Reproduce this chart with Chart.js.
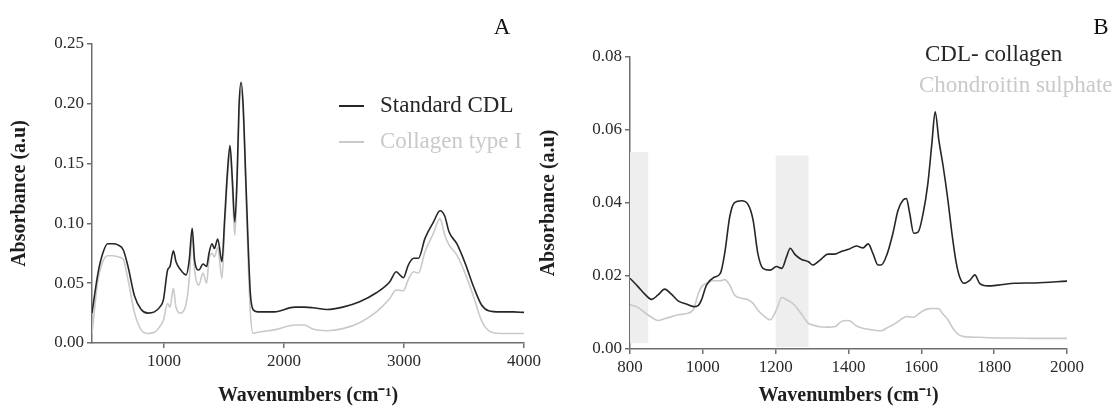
<!DOCTYPE html>
<html lang="en">
<head>
  <meta charset="UTF-8">
  <title>FTIR spectra - CDL</title>
  <script src="https://cdn.jsdelivr.net/npm/chart.js"></script>
  <style>
    body { margin: 0; background: #fff; }
    #wrap { position: relative; width: 1115px; height: 409px; }
    .box { position: absolute; top: 0; }
    #boxA { left: 0; }
    #boxB { left: 536px; }
  </style>
</head>
<body>
  <div id="wrap">
    <div class="box" id="boxA"><canvas id="chartA" width="560" height="409"></canvas></div>
    <div class="box" id="boxB"><canvas id="chartB" width="579" height="409"></canvas></div>
  </div>

  <script>
    // --- panel A : Standard CDL vs collagen type I (400-4000 cm-1)
    const wnA = [400, 450, 490, 530, 575, 615, 660, 700, 755, 810, 865, 920, 965, 995, 1030, 1050, 1078, 1100,
      1140, 1185, 1210, 1235, 1255, 1290, 1325, 1355, 1375, 1400, 1420, 1448, 1483, 1505, 1528, 1550, 1570, 1590,
      1610, 1625, 1643, 1660, 1680, 1700, 1720, 1742, 1780, 1920, 2090, 2170, 2240, 2360, 2490, 2630, 2770, 2880,
      2935, 2965, 2995, 3035, 3080, 3120, 3175, 3245, 3300, 3340, 3375, 3440, 3510, 3580, 3645, 3705, 3800, 3910, 4000];
    const cdlA = [0.025, 0.0585, 0.075, 0.083, 0.083, 0.082, 0.078, 0.064, 0.039, 0.028, 0.025, 0.026, 0.030, 0.036,
      0.061, 0.064, 0.077, 0.068, 0.061, 0.057, 0.069, 0.096, 0.069, 0.061, 0.066, 0.064, 0.075, 0.083, 0.079, 0.087,
      0.068, 0.103, 0.142, 0.165, 0.136, 0.101, 0.142, 0.198, 0.218, 0.198, 0.142, 0.086, 0.041, 0.028, 0.026, 0.026,
      0.030, 0.030, 0.0295, 0.028, 0.030, 0.0345, 0.042, 0.051, 0.0596, 0.057, 0.0546, 0.065, 0.0708, 0.0708, 0.0875,
      0.101, 0.1106, 0.106, 0.093, 0.083, 0.0666, 0.047, 0.032, 0.027, 0.026, 0.026, 0.0256];
    const collagenA = [0.008, 0.053, 0.068, 0.073, 0.073, 0.072, 0.070, 0.053, 0.025, 0.011, 0.008, 0.009, 0.0137,
      0.019, 0.033, 0.030, 0.0457, 0.030, 0.025, 0.033, 0.053, 0.089, 0.061, 0.0485, 0.0585, 0.050, 0.070, 0.075,
      0.072, 0.080, 0.054, 0.096, 0.136, 0.160, 0.128, 0.090, 0.135, 0.189, 0.2115, 0.192, 0.135, 0.072, 0.025, 0.008,
      0.009, 0.011, 0.015, 0.015, 0.0117, 0.0103, 0.012, 0.017, 0.026, 0.037, 0.0443, 0.044, 0.0437, 0.0527, 0.0596,
      0.0585, 0.0763, 0.0917, 0.104, 0.090, 0.082, 0.0736, 0.058, 0.0387, 0.019, 0.0103, 0.008, 0.008, 0.008];
    const xTicksA = [1000, 2000, 3000, 4000];
    const yTicksA = [0, 0.05, 0.10, 0.15, 0.20, 0.25];

    // --- panel B : CDL-collagen vs chondroitin sulphate (800-2000 cm-1)
    const wnB = [800, 822, 840, 859, 877, 895, 913, 932, 955, 975, 987, 996, 1010, 1030, 1048, 1060, 1074, 1087, 1106,
      1124, 1138, 1151, 1165, 1185, 1202, 1217, 1230, 1240, 1252, 1270, 1290, 1302, 1321, 1344, 1362, 1380, 1400, 1422,
      1440, 1454, 1467, 1481, 1490, 1506, 1522, 1536, 1550, 1559, 1568, 1579, 1591, 1605, 1618, 1629, 1638, 1648, 1660,
      1673, 1684, 1696, 1705, 1717, 1733, 1747, 1760, 1783, 1811, 1857, 1912, 2000];
    const cdlCollagenB = [0.0194, 0.0171, 0.0151, 0.0136, 0.0148, 0.0164, 0.0151, 0.0132, 0.0123, 0.0116, 0.0119,
      0.0134, 0.0175, 0.0196, 0.0207, 0.0262, 0.0363, 0.0401, 0.0406, 0.0396, 0.0353, 0.0262, 0.0221, 0.0216, 0.0226,
      0.0221, 0.0253, 0.0276, 0.026, 0.0246, 0.0239, 0.023, 0.0243, 0.026, 0.026, 0.0267, 0.0273, 0.0282, 0.0277,
      0.0288, 0.0262, 0.023, 0.023, 0.026, 0.0317, 0.038, 0.0408, 0.0412, 0.0372, 0.0317, 0.032, 0.0372, 0.0454,
      0.0564, 0.065, 0.0573, 0.050, 0.0408, 0.0317, 0.0235, 0.0198, 0.018, 0.0188, 0.0203, 0.018, 0.0173, 0.0175,
      0.018, 0.0181, 0.0186];
    const chondroitinB = [0.0121, 0.0114, 0.0100, 0.0087, 0.0078, 0.0083, 0.0088, 0.0094, 0.0097, 0.0110, 0.0150,
      0.0170, 0.0180, 0.0187, 0.0187, 0.0190, 0.0175, 0.0148, 0.0139, 0.0135, 0.0125, 0.0107, 0.0093, 0.0080, 0.0107,
      0.0141, 0.0135, 0.0130, 0.0120, 0.0097, 0.0070, 0.0066, 0.0061, 0.0060, 0.0061, 0.0075, 0.0078, 0.0063, 0.0057,
      0.0054, 0.0052, 0.0050, 0.0050, 0.0058, 0.0066, 0.0075, 0.0085, 0.0089, 0.0088, 0.0087, 0.0095, 0.0105, 0.0110,
      0.0111, 0.0111, 0.0110, 0.0095, 0.0080, 0.0061, 0.0045, 0.0038, 0.0034, 0.0033, 0.0032, 0.0032, 0.0031, 0.0030,
      0.0030, 0.0029, 0.0029];
    const xTicksB = [800, 1000, 1200, 1400, 1600, 1800, 2000];
    const yTicksB = [0, 0.02, 0.04, 0.06, 0.08];

    // shaded regions in B
    const bandFrom = [800, 1200];
    const bandTo = [850, 1290];
    const bandLow = [0.0016, 0.0005];
    const bandHigh = [0.054, 0.053];

    const SERIF = '"Liberation Serif", "Times New Roman", serif';
    const AXIS = '#6e6e6e';
    const DARK = '#262626';
    const LIGHT = '#c9c9c9';

    const pts = (xs, ys) => xs.map((x, i) => ({ x: x, y: ys[i] }));

    // draws the shaded bands (behind the curves) and the in-plot labels
    const extras = {
      id: 'extras',
      beforeDatasetsDraw(chart, args, opts) {
        if (!opts.bands) return;
        const { ctx, scales } = chart;
        const b = opts.bands;
        ctx.save();
        ctx.fillStyle = '#eeeeee';
        b.from.forEach((f, i) => {
          const x0 = scales.x.getPixelForValue(f);
          const x1 = scales.x.getPixelForValue(b.to[i]);
          const y0 = scales.y.getPixelForValue(b.high[i]);
          const y1 = scales.y.getPixelForValue(b.low[i]);
          ctx.fillRect(x0, y0, x1 - x0, y1 - y0);
        });
        ctx.restore();
      },
      afterDraw(chart, args, opts) {
        const ctx = chart.ctx;
        ctx.save();
        ctx.textBaseline = 'middle';
        ctx.font = '23px ' + SERIF;
        // panel letter
        ctx.fillStyle = '#111';
        ctx.textAlign = 'center';
        ctx.fillText(opts.letter.text, opts.letter.x, opts.letter.y);
        // legend entries taken from the datasets
        ctx.textAlign = 'left';
        chart.data.datasets.forEach((ds, i) => {
          const p = opts.legend[i];
          if (p.lineFrom !== undefined) {
            ctx.strokeStyle = ds.borderColor;
            ctx.lineWidth = 2;
            ctx.beginPath();
            ctx.moveTo(p.lineFrom, p.y);
            ctx.lineTo(p.lineTo, p.y);
            ctx.stroke();
          }
          ctx.fillStyle = ds.borderColor;
          ctx.fillText(ds.label, p.x, p.y);
        });
        ctx.restore();
      }
    };

    function axis(min, max, tickList, fmt, title, size, titlePad) {
      return {
        type: 'linear',
        min: min,
        max: max,
        afterBuildTicks: s => { s.ticks = tickList.map(v => ({ value: v })); },
        afterFit: s => { if (size.h) s.height = size.h; if (size.w) s.width = size.w; },
        ticks: {
          autoSkip: false,
          maxRotation: 0,
          padding: 3,
          color: '#2a2a2a',
          font: { family: SERIF, size: 17 },
          callback: fmt
        },
        grid: { drawOnChartArea: false, tickLength: 5, color: AXIS, lineWidth: 1.5 },
        border: { display: true, color: AXIS, width: 1.5 },
        title: {
          display: true,
          text: title,
          color: '#1e1e1e',
          padding: titlePad,
          font: { family: SERIF, size: 20, weight: 'bold' }
        }
      };
    }

    function makeChart(id, cfg) {
      return new Chart(document.getElementById(id), {
        type: 'line',
        data: {
          datasets: cfg.series.map(s => ({
            label: s.label,
            data: s.data,
            borderColor: s.color,
            borderWidth: 1.6,
            pointRadius: 0,
            cubicInterpolationMode: 'monotone',
            fill: false
          }))
        },
        options: {
          responsive: false,
          animation: false,
          events: [],
          layout: { padding: cfg.padding },
          plugins: {
            legend: { display: false },
            tooltip: { enabled: false },
            extras: cfg.extras
          },
          scales: {
            x: axis(cfg.x[0], cfg.x[1], cfg.xTicks, v => String(v), 'Wavenumbers (cm\u207B\u00B9)',
              { h: cfg.xH }, { top: 0, bottom: 1 }),
            y: axis(cfg.y[0], cfg.y[1], cfg.yTicks, v => v.toFixed(2), 'Absorbance (a.u)',
              { w: cfg.yW }, { top: cfg.yTitlePad, bottom: 0 })
          }
        },
        plugins: [extras]
      });
    }

    makeChart('chartA', {
      series: [
        { label: 'Standard CDL', data: pts(wnA, cdlA), color: DARK },
        { label: 'Collagen type I', data: pts(wnA, collagenA), color: LIGHT }
      ],
      x: [400, 4000], y: [0, 0.25],
      xTicks: xTicksA, yTicks: yTicksA,
      padding: { left: 0, right: 36, top: 44, bottom: 0 },
      xH: 66, yW: 92, yTitlePad: 8,
      extras: {
        letter: { text: 'A', x: 502, y: 28 },
        legend: [
          { x: 380, y: 106, lineFrom: 339, lineTo: 364 },
          { x: 380, y: 142, lineFrom: 339, lineTo: 364 }
        ]
      }
    });

    makeChart('chartB', {
      series: [
        { label: 'CDL- collagen', data: pts(wnB, cdlCollagenB), color: DARK },
        { label: 'Chondroitin sulphate', data: pts(wnB, chondroitinB), color: LIGHT }
      ],
      x: [800, 2000], y: [0, 0.08],
      xTicks: xTicksB, yTicks: yTicksB,
      padding: { left: 0, right: 48, top: 57, bottom: 0 },
      xH: 60, yW: 94, yTitlePad: 1,
      extras: {
        letter: { text: 'B', x: 565, y: 28 },
        legend: [
          { x: 389, y: 55 },
          { x: 383, y: 86 }
        ],
        bands: { from: bandFrom, to: bandTo, low: bandLow, high: bandHigh }
      }
    });
  </script>
</body>
</html>
